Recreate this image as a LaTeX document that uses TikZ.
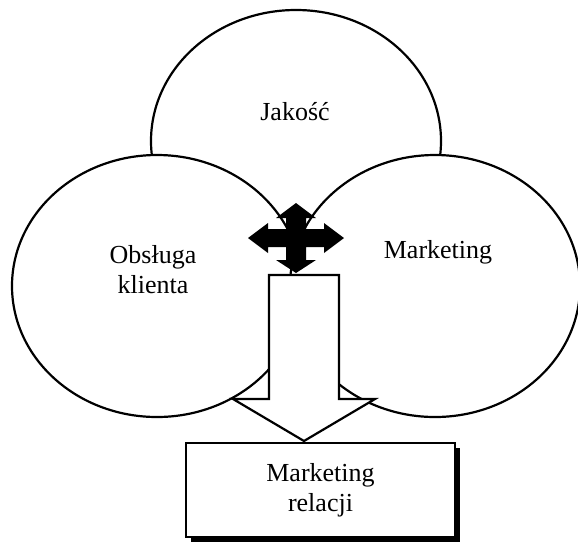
\documentclass[tikz,border=0pt]{standalone}
\usepackage{fontspec}
\setmainfont{Liberation Serif}
\usetikzlibrary{shapes.geometric,shadows}

\begin{document}
\begin{tikzpicture}[
    x=1pt, y=-1pt,
    font=\fontsize{26}{30}\selectfont,
    area/.style={draw, ellipse, fill=white, minimum width=290pt, minimum height=262pt, inner sep=0pt, line width=2.2pt},
    lbl/.style={align=center, inner sep=0pt},
    result/.style={draw, fill=white, minimum width=269pt, minimum height=94pt, align=center, line width=2.4pt, drop shadow={shadow xshift=5pt, shadow yshift=-5pt, fill=black, opacity=1}},
    blockarrow/.style={draw, fill=white, line width=2.2pt, line join=miter},
    quadarrow/.style={fill=black}
]
\useasboundingbox (0,0) rectangle (578,542);

% ---- Three areas ----
\node[area] (jakosc) at (296,141) {};
\node[area] (obsluga) at (157,286) {};
\node[area] (marketing) at (435,286) {};

\node[lbl] (jakosc-t) at (295,112) {Jakość};
\node[lbl] (obsluga-t) at (153,270) {Obsługa\\klienta};
\node[lbl] (marketing-t) at (438,252) {Marketing};

% ---- Big arrow down ----
\draw[blockarrow] (269,275) -- (339,275) -- (339,399) -- (375,399) -- (304,441)
    -- (233,399) -- (269,399) -- cycle;

% ---- Four-way arrow ----
\coordinate (hub) at (296,238);
\fill[quadarrow, shift={(hub)}]
    (0,-35) -- (20,-20) -- (10,-20) -- (10,-9) -- (28,-9) -- (28,-15) -- (48,0)
    -- (28,15) -- (28,9) -- (10,9) -- (10,22) -- (20,22) -- (0,35) -- (-20,22)
    -- (-10,22) -- (-10,9) -- (-28,9) -- (-28,15) -- (-48,0) -- (-28,-15)
    -- (-28,-9) -- (-10,-9) -- (-10,-20) -- (-20,-20) -- cycle;

% ---- Result ----
\node[result] (relacje) at (320.5,490) {Marketing\\relacji};

\end{tikzpicture}
\end{document}
